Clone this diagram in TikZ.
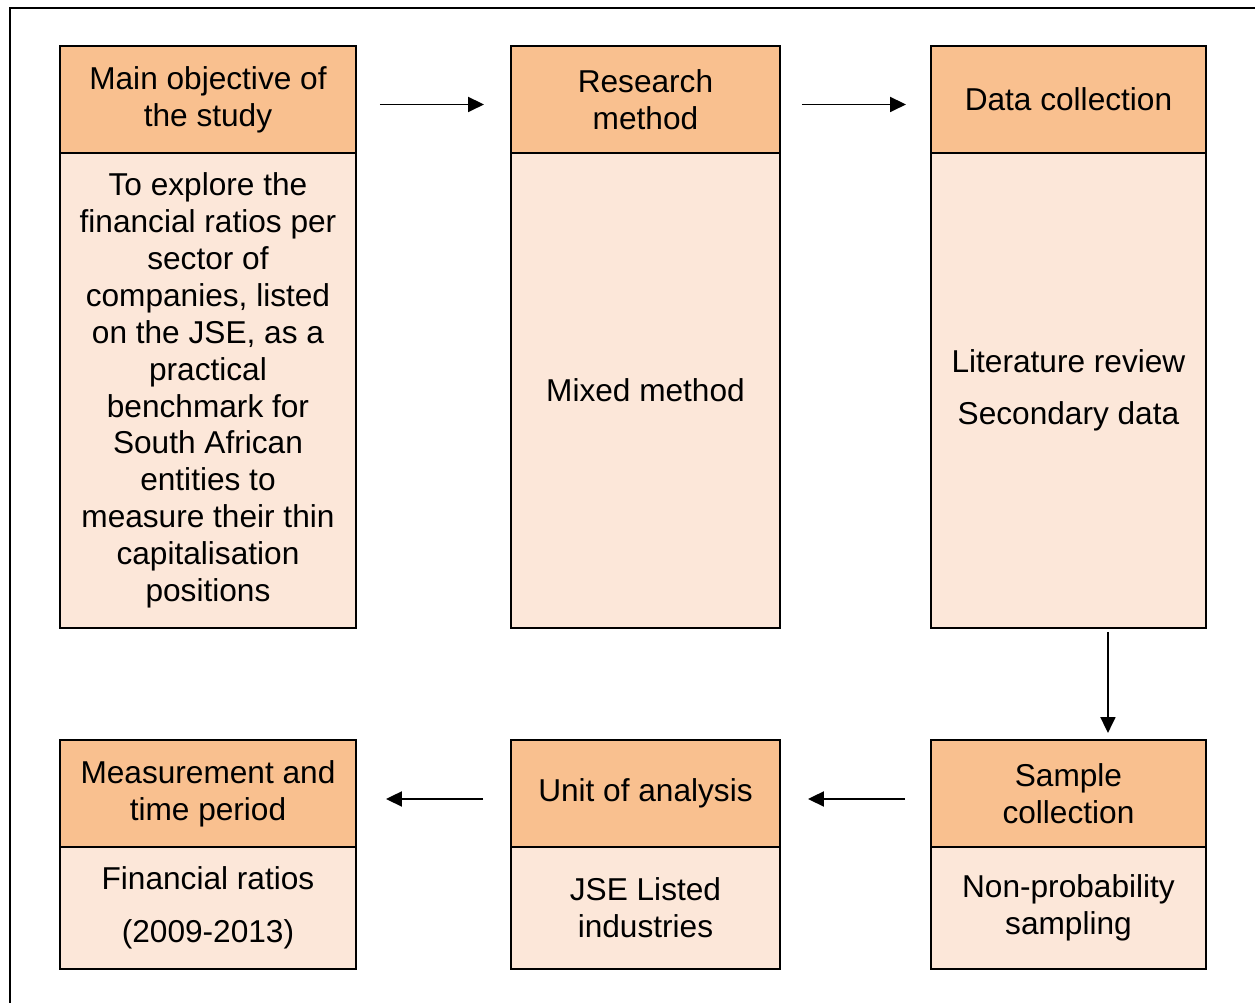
\documentclass[tikz,border=0pt]{standalone}
\usepackage{fontspec}
\setmainfont{Liberation Sans}
\usetikzlibrary{positioning,arrows.meta}
\definecolor{headfill}{HTML}{F9C08F}
\definecolor{bodyfill}{HTML}{FCE7D9}

\begin{document}
\begin{tikzpicture}[x=0.02cm,y=-0.02cm,
        headbox/.style={draw,line width=1.2pt,fill=headfill,align=center,outer sep=0pt,
            inner sep=0pt,minimum height=2.14cm,font=\fontsize{18}{21}\selectfont},
        bodybox/.style={draw,line width=1.2pt,fill=bodyfill,align=center,outer sep=0pt,
            inner sep=0pt,font=\fontsize{18}{21}\selectfont},
        arr/.style={line width=1.1pt,-{Triangle[length=0.32cm,width=0.3cm]}}]
        \useasboundingbox (0,0) rectangle (1255,1003);
        % Outer frame
        \draw[line width=1.1pt] (10,1003) -- (10,8) -- (1255,8);
        % Top row
        \node[headbox,minimum width=5.92cm,anchor=north west] (objhead) at (60,46) {Main objective of\\the study};
        \node[bodybox,minimum width=5.92cm,minimum height=9.5cm,below=0pt of objhead] (objbody)
            {To explore the\\financial ratios per\\sector of\\companies, listed\\on the JSE, as a\\practical\\benchmark for\\South African\\entities to\\measure their thin\\capitalisation\\positions};
        \node[headbox,minimum width=5.38cm,anchor=north west] (methhead) at (511,46) {Research\\method};
        \node[bodybox,minimum width=5.38cm,minimum height=9.5cm,below=0pt of methhead] (methbody) {Mixed method};
        \node[headbox,minimum width=5.5cm,anchor=north west] (datahead) at (931,46) {Data collection};
        \node[bodybox,minimum width=5.5cm,minimum height=9.5cm,below=0pt of datahead] (databody) {Literature review\\[9pt]Secondary data};
        % Bottom row
        \node[headbox,minimum width=5.92cm,anchor=north west] (meashead) at (60,740) {Measurement and\\time period};
        \node[bodybox,minimum width=5.92cm,minimum height=2.44cm,below=0pt of meashead] (measbody) {Financial ratios\\[9pt](2009-2013)};
        \node[headbox,minimum width=5.38cm,anchor=north west] (unithead) at (511,740) {Unit of analysis};
        \node[bodybox,minimum width=5.38cm,minimum height=2.44cm,below=0pt of unithead] (unitbody) {JSE Listed\\industries};
        \node[headbox,minimum width=5.5cm,anchor=north west] (samphead) at (931,740) {Sample\\collection};
        \node[bodybox,minimum width=5.5cm,minimum height=2.44cm,below=0pt of samphead] (sampbody) {Non-probability\\sampling};
        % Arrows
        \draw[arr,shorten <=0.48cm,shorten >=0.54cm] ([yshift=-0.1cm]objhead.east) -- ([yshift=-0.1cm]methhead.west);
        \draw[arr,shorten <=0.44cm,shorten >=0.5cm] ([yshift=-0.1cm]methhead.east) -- ([yshift=-0.1cm]datahead.west);
        \draw[arr,shorten <=0.08cm,shorten >=0.14cm] ([xshift=0.79cm]databody.south) -- ([xshift=0.79cm]samphead.north);
        \draw[arr,shorten <=0.52cm,shorten >=0.56cm] ([yshift=-0.11cm]samphead.west) -- ([yshift=-0.11cm]unithead.east);
        \draw[arr,shorten <=0.56cm,shorten >=0.6cm] ([yshift=-0.11cm]unithead.west) -- ([yshift=-0.11cm]meashead.east);
\end{tikzpicture}
\end{document}
